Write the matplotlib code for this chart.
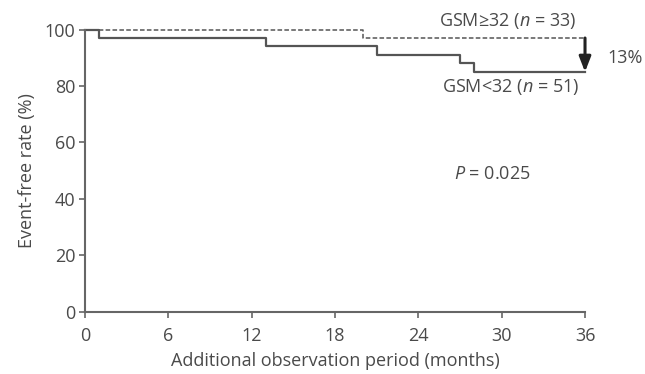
import numpy as np
import matplotlib.pyplot as plt

# Kaplan-Meier step data (months, event-free %)
t_low = [0, 1, 13, 21, 27, 28, 36]
s_low = [100, 97, 94, 91, 88, 85, 85]
t_high = [0, 20, 36]
s_high = [100, 97, 97]
x_ticks = [0, 6, 12, 18, 24, 30, 36]
y_ticks = [0, 20, 40, 60, 80, 100]

plt.rcParams['font.family'] = ['Open Sans', 'DejaVu Sans']
plt.rcParams['mathtext.fontset'] = 'custom'
plt.rcParams['mathtext.rm'] = 'Open Sans'
plt.rcParams['mathtext.it'] = 'Open Sans:italic'
txt = '#4a4a4a'
axc = '#666666'
fs = 13

fig = plt.figure(figsize=(6.45, 3.74), dpi=100)
ax = fig.add_axes([0.132, 0.166, 0.775, 0.755])

# curves
ax.step(t_low, s_low, where='post', color='#555555', lw=1.6, clip_on=False)
ax.step(t_high, s_high, where='post', color='#555555', lw=1.1,
        ls=(0, (3, 1.5)), clip_on=False)

# 13% arrow
ax.annotate('', xy=(36, s_low[-1]), xytext=(36, s_high[-1]),
            arrowprops=dict(arrowstyle='-|>,head_length=0.9,head_width=0.35',
                            color='#222222', lw=2.2, shrinkA=0, shrinkB=0),
            annotation_clip=False)
ax.text(37.6, 90, '13%', color=txt, fontsize=fs, ha='left', va='center')

ax.text(30.4, 103, r'GSM≥32 ($\it{n}$ = 33)', color=txt, fontsize=fs,
        ha='center', va='center')
ax.text(30.65, 79.5, r'GSM<32 ($\it{n}$ = 51)', color=txt, fontsize=fs,
        ha='center', va='center')
ax.text(29.3, 49, r'$\it{P}$ = 0.025', color=txt, fontsize=fs,
        ha='center', va='center')

ax.set_xlim(0, 36)
ax.set_ylim(0, 100)
ax.set_xticks(x_ticks)
ax.set_yticks(y_ticks)
for s in ['top', 'right']:
    ax.spines[s].set_visible(False)
for s in ['left', 'bottom']:
    ax.spines[s].set_color(axc)
    ax.spines[s].set_linewidth(1.5)
ax.tick_params(colors=axc, labelcolor=txt, labelsize=fs, length=4, width=1.2)
ax.tick_params(axis='x', pad=7)
ax.tick_params(axis='y', pad=3)

ax.set_xlabel('Additional observation period (months)', color=txt, fontsize=fs, labelpad=5)
ax.set_ylabel('Event-free rate (%)', color=txt, fontsize=fs, labelpad=6)

fig.savefig('out.png', dpi=100)
